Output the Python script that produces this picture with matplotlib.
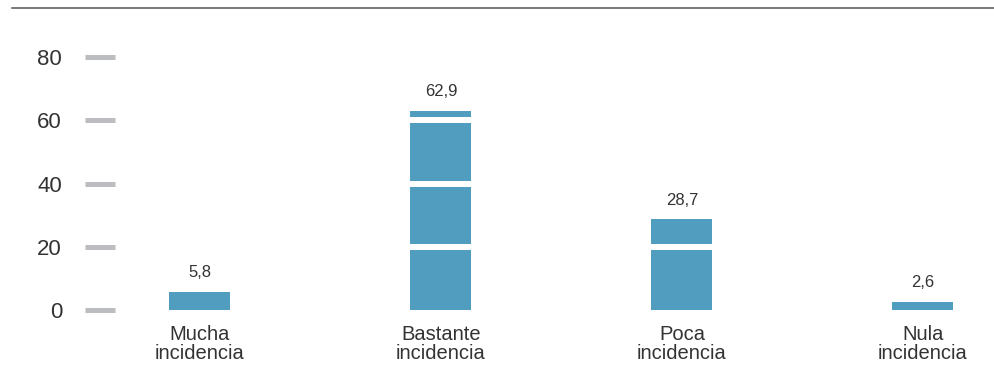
import matplotlib.pyplot as plt
from matplotlib.lines import Line2D

categories = ['Mucha\nincidencia', 'Bastante\nincidencia', 'Poca\nincidencia', 'Nula\nincidencia']
values = [5.8, 62.9, 28.7, 2.6]
value_labels = ['5,8', '62,9', '28,7', '2,6']
y_ticks = [0, 20, 40, 60, 80]

plt.rcParams['font.family'] = ['Liberation Sans', 'DejaVu Sans']

W, H = 995, 392
fig = plt.figure(figsize=(W / 100, H / 100), dpi=100)

# axes placed in pixel terms: left edge at x=85, bottom at y=315, top at y=20
ax = fig.add_axes([85 / W, 1 - 315 / H, (W - 85) / W, 295 / H])

x = list(range(len(categories)))
ax.bar(x, values, width=0.253, color='#519dbf', zorder=1)

# white breaks through the bars at each gridline (kept below the tick marks)
for t in y_ticks[1:-1]:
    ax.axhline(t, color='white', linewidth=4.3, zorder=1.2)

for xi, v, lab in zip(x, values, value_labels):
    ax.annotate(lab, (xi, v), xytext=(0, 10.5), textcoords='offset points',
                ha='center', va='baseline', fontsize=12, color='#333333')

ax.set_xlim(-0.477, 3.299)
ax.set_ylim(-1.58, 91.7)
ax.set_yticks(y_ticks)
ax.set_yticklabels([str(t) for t in y_ticks])
ax.tick_params(axis='y', direction='in', length=21.6, width=3.6,
               color='#bcbdc1', pad=16.5, labelsize=16, labelcolor='#333333')

ax.set_xticks(x)
ax.set_xticklabels(categories, fontsize=14.5, color='#333333', linespacing=1.0)
ax.tick_params(axis='x', length=0, pad=7)

for s in ax.spines.values():
    s.set_visible(False)

fig.add_artist(Line2D([12 / W, 1], [1 - 8 / H, 1 - 8 / H], color='#555555',
                      linewidth=1.1, transform=fig.transFigure))

fig.savefig('out.png', dpi=100)
